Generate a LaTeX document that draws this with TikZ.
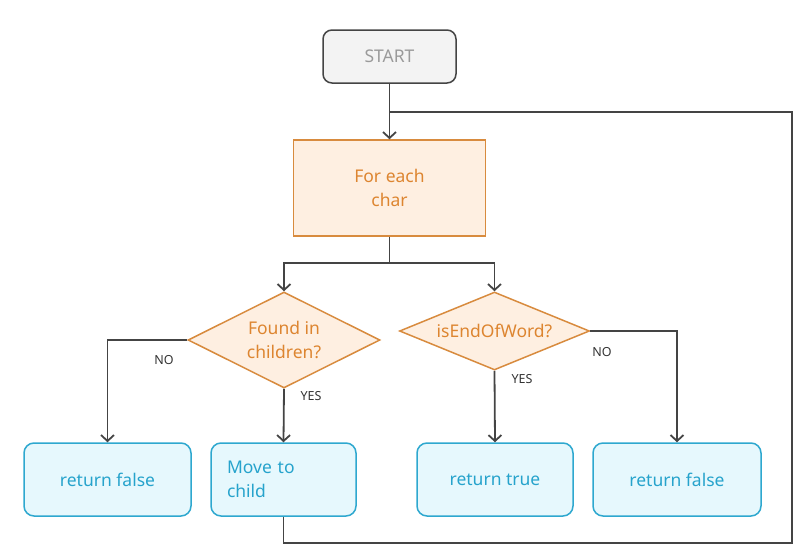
\documentclass[tikz,border=0pt]{standalone}
\usepackage{fontspec}
\setmainfont{Noto Sans}
\usetikzlibrary{shapes.geometric,arrows.meta}
\definecolor{lineC}{HTML}{444444}
\definecolor{startFill}{HTML}{F3F3F3}
\definecolor{startText}{HTML}{9A9A9A}
\definecolor{orFill}{HTML}{FEEFE1}
\definecolor{orLine}{HTML}{D88B3E}
\definecolor{orText}{HTML}{DD8530}
\definecolor{blFill}{HTML}{E6F8FD}
\definecolor{blLine}{HTML}{2EA8CF}
\definecolor{blText}{HTML}{26A3CC}
\definecolor{lblC}{HTML}{333333}
\tikzset{
  base/.style={font=\fontsize{17.5}{24}\selectfont, inner sep=0pt, align=center},
  startbox/.style={base, draw=lineC, fill=startFill, text=startText, rounded corners=9pt, line width=1.5pt, minimum width=133pt, minimum height=53pt},
  procbox/.style={base, draw=orLine, fill=orFill, text=orText, line width=1.5pt, minimum width=192pt, minimum height=96pt},
  decbox/.style={base, shape=diamond, aspect=2, draw=orLine, fill=orFill, text=orText, line width=1.5pt},
  endbox/.style={base, draw=blLine, fill=blFill, text=blText, rounded corners=10pt, line width=1.5pt, minimum height=73pt},
  conn/.style={draw=lineC, line width=1.8pt},
  arr/.style={conn, -{Straight Barb[length=6pt,width=13pt,line width=1.8pt]}},
  lbl/.style={font=\fontsize{12.5}{14}\selectfont, text=lblC, inner sep=0pt}
}
\begin{document}
\begin{tikzpicture}[x=1pt,y=-1pt]
\useasboundingbox (0,0) rectangle (804,555);
\node[startbox] (start) at (389.5,56.5) {START};
\node[procbox] (fec) at (389.5,188) {For each\\char};
\node[decbox, minimum width=192pt, minimum height=96pt] (d1) at (284,340) {Found in\\children?};
\node[decbox, minimum width=190pt, minimum height=78pt] (d2) at (494.5,331) {isEndOfWord?};
\node[endbox, minimum width=167pt] (rf1) at (107.5,479.5) {return false};
\node[endbox, minimum width=145pt, text width=113pt, align=left] (mtc) at (283.5,479.5) {Move to\\child};
\node[endbox, minimum width=156pt] (rt) at (495,479.5) {return true};
\node[endbox, minimum width=168pt] (rf2) at (677,479.5) {return false};

\coordinate (split) at (389.5,263);
\coordinate (join) at (389.5,112);
\coordinate (corner) at (792,543);

\draw[arr] (start) -- (fec);
\draw[conn] (fec.south) -- (split);
\draw[arr] (split) -| (d1.north);
\draw[arr] (split) -| (d2.north);
\draw[arr] (d1.west) -| (rf1.north);
\draw[arr] (d1.south) -- (mtc.north);
\draw[arr] (d2.south) -- (rt.north);
\draw[arr] (d2.east) -| (rf2.north);
\draw[conn] (mtc.south) |- (corner) |- (join);

\node[lbl] (no1) at (164,360) {NO};
\node[lbl] (yes1) at (311,396) {YES};
\node[lbl] (yes2) at (522,379) {YES};
\node[lbl] (no2) at (602,352) {NO};
\end{tikzpicture}
\end{document}
